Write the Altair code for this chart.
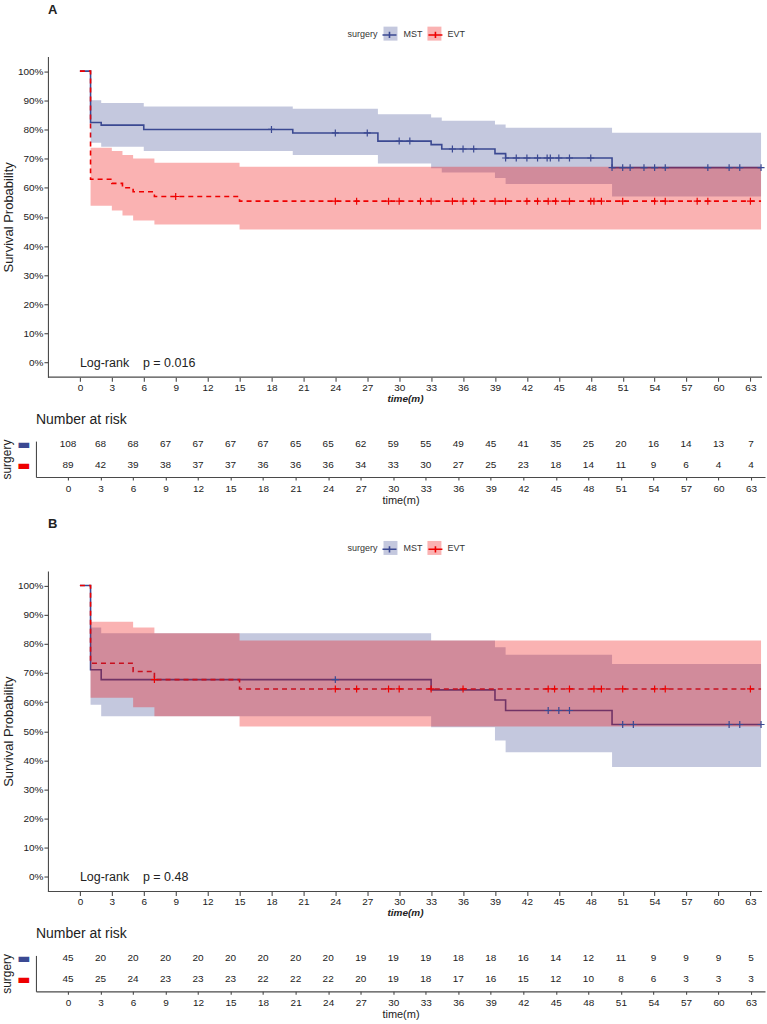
import altair as alt
import pandas as pd

FONT = "Liberation Sans"
INK = "#222222"
AXIS_GREY = "#4a4a4a"

GROUPS = ["MST", "EVT"]
LINE_KEYS = ["MST ", "EVT "]          # stroke-scale domain (kept apart from the fill domain)
COLORS = ["#3B4992", "#EE0000"]

TIME_TICKS = list(range(0, 64, 3))
PCT_TICKS = [i / 10 for i in range(11)]

# ---------------- Panel A: Kaplan-Meier steps (months, survival, 95% CI) ----------------
A_MST_T = [0, 1, 2, 6, 20, 28, 33, 34, 39, 40, 50, 64]
A_MST_S = [1.0, 0.824, 0.815, 0.800, 0.788, 0.760, 0.748, 0.733, 0.717, 0.702, 0.669, 0.669]
A_MST_LO = [1.0, 0.754, 0.741, 0.726, 0.712, 0.683, 0.667, 0.652, 0.633, 0.613, 0.570, 0.570]
A_MST_HI = [1.0, 0.900, 0.891, 0.879, 0.871, 0.852, 0.841, 0.830, 0.817, 0.806, 0.789, 0.789]
A_MST_CENSOR = [18, 24, 27, 30, 31, 35, 36, 37, 40, 41, 42, 43, 43.9, 44.2, 45, 46, 48,
                50, 51, 51.7, 53, 54, 55, 59, 61, 62, 64]

A_EVT_T = [0, 1, 3, 4, 5, 7, 15, 64]
A_EVT_S = [1.0, 0.629, 0.615, 0.600, 0.586, 0.570, 0.554, 0.554]
A_EVT_LO = [1.0, 0.538, 0.522, 0.505, 0.488, 0.474, 0.457, 0.457]
A_EVT_HI = [1.0, 0.737, 0.726, 0.712, 0.700, 0.686, 0.672, 0.672]
A_EVT_CENSOR = [9, 24, 26, 29, 30, 32, 33, 35, 36, 37, 39, 40, 42, 43, 44, 44.7, 46,
                48, 48.3, 49, 51, 54, 55, 58, 59, 63]

A_RISK_MST = [108, 68, 68, 67, 67, 67, 67, 65, 65, 62, 59, 55, 49, 45, 41, 35, 25, 20, 16, 14, 13, 7]
A_RISK_EVT = [89, 42, 39, 38, 37, 37, 36, 36, 36, 34, 33, 30, 27, 25, 23, 18, 14, 11, 9, 6, 4, 4]

# ---------------- Panel B ----------------
B_MST_T = [0, 1, 2, 33, 39, 40, 50, 64]
B_MST_S = [1.0, 0.711, 0.677, 0.642, 0.607, 0.571, 0.523, 0.523]
B_MST_LO = [1.0, 0.591, 0.551, 0.514, 0.468, 0.428, 0.377, 0.377]
B_MST_HI = [1.0, 0.856, 0.836, 0.811, 0.788, 0.762, 0.731, 0.731]
B_MST_CENSOR = [24, 44, 45, 46, 51, 52, 61, 62, 64]

B_EVT_T = [0, 1, 5, 7, 15, 64]
B_EVT_S = [1.0, 0.733, 0.705, 0.677, 0.645, 0.645]
B_EVT_LO = [1.0, 0.615, 0.582, 0.551, 0.516, 0.516]
B_EVT_HI = [1.0, 0.876, 0.856, 0.836, 0.811, 0.811]
B_EVT_CENSOR = [7, 24, 26, 29, 30, 33, 36, 44, 44.6, 46, 48.3, 49, 51, 54, 55, 63]

B_RISK_MST = [45, 20, 20, 20, 20, 20, 20, 20, 20, 19, 19, 19, 18, 18, 16, 14, 12, 11, 9, 9, 9, 5]
B_RISK_EVT = [45, 25, 24, 23, 23, 23, 22, 22, 22, 20, 19, 18, 17, 16, 15, 12, 10, 8, 6, 3, 3, 3]

P_VALUES = {"A": "0.016", "B": "0.48"}
P_POS = (0, 0)   # time, survival where the log-rank note starts

# ---------------- scales / sizes ----------------
MAIN_W, MAIN_H = 727, 321
RISK_W, RISK_H = 730, 36
GAP_PLOT_TABLE = 64
GAP_PANELS = 94
X_MAIN = [-4.13, 64.09]
Y_AXIS_AT = -3.0
Y_MAIN = [-0.05, 1.05]
X_RISK = [-2.95, 64.29]
Y_RISK = [0.43, 2.14]
ROW_POS = {"MST": 2, "EVT": 1}

CROSS = "M-1,0H1M0,-1V1"
KEY_PATH = "M-1,0H1M0,-0.45V0.45"

SCALE_X_MAIN = alt.Scale(domain=X_MAIN, nice=False, zero=False)
SCALE_Y_MAIN = alt.Scale(domain=Y_MAIN, nice=False, zero=False)
AXIS_X_MAIN = alt.Axis(values=TIME_TICKS, format="d", title="time(m)", domain=False,
                       tickSize=4, labelPadding=1, labelFontSize=10,
                       titleFontSize=10, titleFontWeight="bold", titleFontStyle="italic",
                       titlePadding=1, titleX=369.5)
AXIS_Y_MAIN = alt.Axis(values=PCT_TICKS, format=".0%", title="Survival Probability",
                       offset=-12, tickSize=4, labelPadding=1, labelFontSize=10,
                       titleFontSize=13, titleFontWeight="normal", titlePadding=2)

FILL_SCALE = alt.Scale(domain=GROUPS, range=COLORS)
STROKE_SCALE = alt.Scale(domain=LINE_KEYS, range=COLORS)

# the keys: a light square from the fill legend, with a line-and-cross key drawn over it
LEG_X, LEG_Y = 312, -30
KEY_SIZE = 196
FILL_LEGEND = alt.Legend(orient="none", legendX=LEG_X, legendY=LEG_Y, direction="horizontal",
                         title="surgery", titleOrient="left", titleFontSize=9,
                         titleFontWeight="normal", titlePadding=5, titleBaseline="middle",
                         titleAnchor="middle", labelFontSize=9, labelOffset=6,
                         columnPadding=5, symbolSize=KEY_SIZE, padding=0,
                         labelColor="#333333", titleColor="#333333",
                         symbolType="square", symbolOpacity=0.3, symbolStrokeWidth=0)
STROKE_LEGEND = alt.Legend(orient="none", legendX=LEG_X + 34, legendY=LEG_Y,
                           direction="horizontal", title=None, labelExpr="''",
                           labelOffset=0, columnPadding=24, symbolSize=KEY_SIZE, padding=0,
                           symbolType=KEY_PATH, symbolStrokeWidth=1.6,
                           symbolFillColor="transparent")


def xm(field):
    return alt.X(field, type="quantitative", scale=SCALE_X_MAIN, axis=AXIS_X_MAIN)


def ym(field):
    return alt.Y(field, type="quantitative", scale=SCALE_Y_MAIN, axis=AXIS_Y_MAIN)


def step_frame(T, S, LO, HI, group, key):
    return pd.DataFrame({"time": T, "surv": S, "lower": LO, "upper": HI,
                         "surgery": group, "curve": key})


def censor_frame(T, S, times, key):
    levels = []
    for c in times:
        i = max(j for j, t in enumerate(T) if t <= c)
        levels.append(S[i])
    return pd.DataFrame({"time": times, "surv": levels, "curve": key})


def km_chart(letter, mst, evt, mst_cens, evt_cens):
    d_mst = step_frame(*mst, GROUPS[0], LINE_KEYS[0])
    d_evt = step_frame(*evt, GROUPS[1], LINE_KEYS[1])
    c_mst = censor_frame(mst[0], mst[1], mst_cens, LINE_KEYS[0])
    c_evt = censor_frame(evt[0], evt[1], evt_cens, LINE_KEYS[1])
    cens = pd.concat([c_mst, c_evt], ignore_index=True)

    stroke = alt.Stroke("curve:N", scale=STROKE_SCALE, legend=STROKE_LEGEND)
    fill = alt.Fill("surgery:N", scale=FILL_SCALE, legend=FILL_LEGEND)

    line_mst = alt.Chart(d_mst).mark_line(interpolate="step-after", strokeWidth=1.6).encode(
        x=xm("time"), y=ym("surv"), stroke=stroke)
    line_evt = alt.Chart(d_evt).mark_line(interpolate="step-after", strokeWidth=1.6,
                                          strokeDash=[5, 4]).encode(
        x=xm("time"), y=ym("surv"), stroke=stroke)
    band_mst = alt.Chart(d_mst[d_mst.time > 0]).mark_area(
        interpolate="step-after", opacity=0.3).encode(
        x=xm("time"), y=ym("lower"), y2="upper:Q", fill=fill)
    band_evt = alt.Chart(d_evt[d_evt.time > 0]).mark_area(
        interpolate="step-after", opacity=0.3).encode(
        x=xm("time"), y=ym("lower"), y2="upper:Q", fill=fill)
    marks = alt.Chart(cens).mark_point(shape=CROSS, size=49, filled=False,
                                       strokeWidth=1.2, opacity=1).encode(
        x=xm("time"), y=ym("surv"), stroke=stroke)

    note = pd.DataFrame({"time": [P_POS[0]], "surv": [P_POS[1]],
                         "label": ["Log-rank\u00a0\u00a0\u00a0\u00a0p = " + P_VALUES[letter]]})
    pval = alt.Chart(note).mark_text(align="left", baseline="middle", fontSize=12.5,
                                     color=INK).encode(
        x=xm("time"), y=ym("surv"), text="label:N")

    x_line = alt.Chart(note).mark_rule(color=AXIS_GREY, strokeWidth=1.1).encode(
        x=alt.XDatum(Y_AXIS_AT, type="quantitative", scale=SCALE_X_MAIN, axis=AXIS_X_MAIN),
        x2=alt.X2Datum(X_MAIN[1]),
        y=alt.YDatum(Y_MAIN[0], type="quantitative", scale=SCALE_Y_MAIN, axis=AXIS_Y_MAIN))

    return alt.layer(line_mst, line_evt, band_mst, band_evt, marks, pval, x_line).properties(
        width=MAIN_W, height=MAIN_H,
        title=alt.Title(letter, anchor="start", frame="group", dx=12, offset=10,
                        fontSize=13, fontWeight="bold", color=INK))


def risk_chart(mst_counts, evt_counts):
    rows = []
    for g, counts in zip(GROUPS, [mst_counts, evt_counts]):
        for t, n in zip(TIME_TICKS, counts):
            rows.append({"time": t, "row": ROW_POS[g], "n": str(n)})
    label_color = {"condition": {"test": "datum.value == 2", "value": COLORS[0]},
                   "value": COLORS[1]}
    return alt.Chart(pd.DataFrame(rows)).mark_text(fontSize=10, color=INK).encode(
        x=alt.X("time:Q", scale=alt.Scale(domain=X_RISK, nice=False, zero=False),
                axis=alt.Axis(values=TIME_TICKS, format="d", title="time(m)", tickSize=3,
                              labelPadding=3, labelFontSize=10, titleFontSize=11,
                              titleFontWeight="normal", titlePadding=1)),
        y=alt.Y("row:Q", scale=alt.Scale(domain=Y_RISK, nice=False, zero=False),
                axis=alt.Axis(values=[1, 2], title="surgery", labelExpr="'\u25ac'",
                              labelFont="DejaVu Sans", labelFontSize=14,
                              labelColor=label_color, ticks=False, labelPadding=6,
                              titleFontSize=12, titleFontWeight="normal", titlePadding=3)),
        text="n:N",
    ).properties(width=RISK_W, height=RISK_H,
                 title=alt.Title("Number at risk", anchor="start", frame="group",
                                 offset=10, fontSize=14, fontWeight="normal", color=INK))


def spacer(h):
    # empty view that only reserves vertical room between panels
    return alt.Chart(pd.DataFrame({"v": [0]})).mark_point(opacity=0).properties(
        width=MAIN_W, height=h)


chart = alt.vconcat(
    km_chart("A", (A_MST_T, A_MST_S, A_MST_LO, A_MST_HI),
             (A_EVT_T, A_EVT_S, A_EVT_LO, A_EVT_HI), A_MST_CENSOR, A_EVT_CENSOR),
    spacer(GAP_PLOT_TABLE),
    risk_chart(A_RISK_MST, A_RISK_EVT),
    spacer(GAP_PANELS),
    km_chart("B", (B_MST_T, B_MST_S, B_MST_LO, B_MST_HI),
             (B_EVT_T, B_EVT_S, B_EVT_LO, B_EVT_HI), B_MST_CENSOR, B_EVT_CENSOR),
    spacer(GAP_PLOT_TABLE),
    risk_chart(B_RISK_MST, B_RISK_EVT),
    spacing=0, bounds="flush",
).resolve_scale(
    x="independent", y="independent", fill="independent", stroke="independent"
).resolve_legend(fill="independent", stroke="independent").properties(
    padding={"left": 0, "top": 3, "right": 0, "bottom": 0}
).configure(font=FONT).configure_view(stroke=None).configure_axis(
    grid=False, domainColor=AXIS_GREY, tickColor=AXIS_GREY, domainWidth=1.1,
    tickWidth=1.1, labelColor=INK, titleColor=INK, labelFont=FONT, titleFont=FONT
).configure_title(font=FONT)

chart.save("out.html", embed_options={"renderer": "svg", "actions": False})
